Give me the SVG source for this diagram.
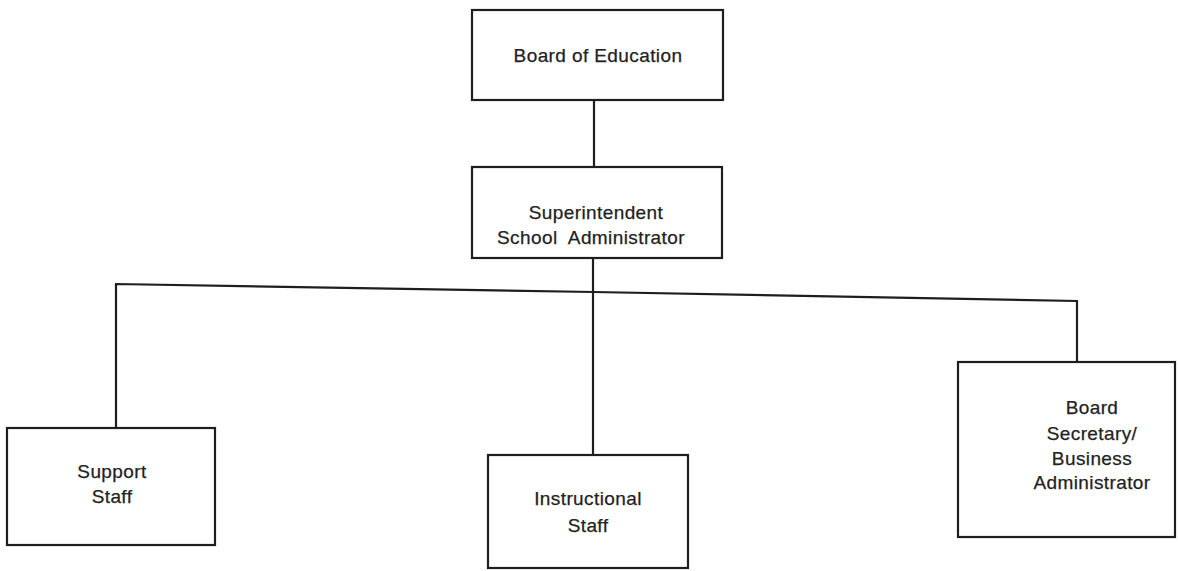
<svg xmlns="http://www.w3.org/2000/svg" width="1178" height="571" viewBox="0 0 1178 571">
<style>
.box{fill:#fff;stroke:#1e1e1e;stroke-width:2.2}
.ln{fill:none;stroke:#1e1e1e;stroke-width:2.2}
.t{font-family:"Liberation Sans",Arial,sans-serif;font-size:19px;fill:#222;stroke:#222;stroke-width:0.25;letter-spacing:0.4px;text-anchor:middle}
</style>
<rect width="1178" height="571" fill="#fff"/>
<g id="connectors">
<line class="ln" x1="594" y1="100" x2="594" y2="167"/>
<line class="ln" x1="593" y1="258" x2="593" y2="455"/>
<polyline class="ln" points="116,428 116,284 593,292 1077,301 1077,362"/>
</g>
<g id="board">
<rect class="box" x="472" y="10" width="251" height="90"/>
<text class="t" x="598" y="62">Board of Education</text>
</g>
<g id="superintendent">
<rect class="box" x="472" y="167" width="250" height="91"/>
<text class="t" x="596" y="219">Superintendent</text>
<text class="t" x="591" y="244">School&#160; Administrator</text>
</g>
<g id="support">
<rect class="box" x="7" y="428" width="208" height="117"/>
<text class="t" x="112" y="478">Support</text>
<text class="t" x="112" y="503">Staff</text>
</g>
<g id="instructional">
<rect class="box" x="488" y="455" width="200" height="113"/>
<text class="t" x="588" y="505">Instructional</text>
<text class="t" x="588" y="532">Staff</text>
</g>
<g id="secretary">
<rect class="box" x="958" y="362" width="217" height="175"/>
<text class="t" x="1092" y="414">Board</text>
<text class="t" x="1092" y="440">Secretary/</text>
<text class="t" x="1092" y="465">Business</text>
<text class="t" x="1092" y="489">Administrator</text>
</g>
</svg>
